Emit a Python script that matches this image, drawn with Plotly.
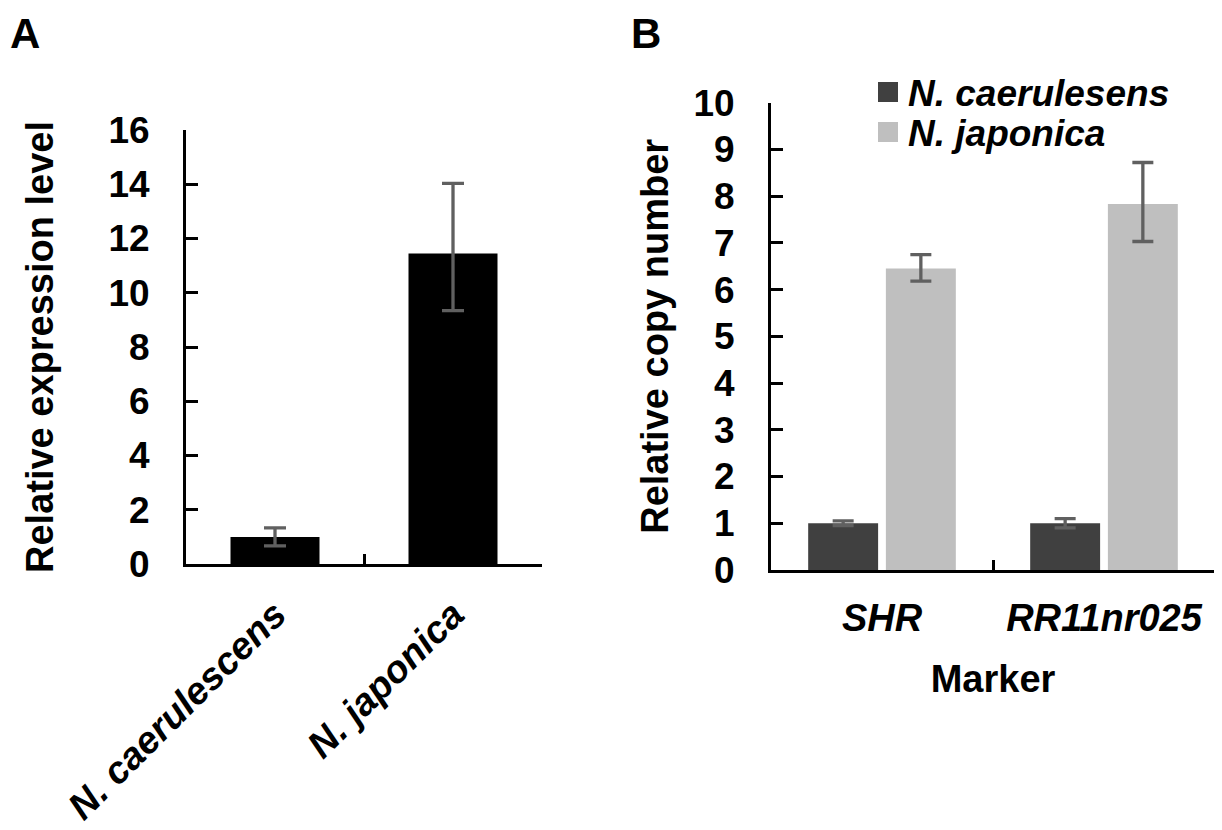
import plotly.graph_objects as go

# Panel A data
species = ["N. caerulescens", "N. japonica"]
expr_values = [1.0, 11.45]
expr_err_plus = [0.33, 2.58]
expr_err_minus = [0.33, 2.11]

# Panel B data
markers = ["SHR", "RR11nr025"]
series_names = ["N. caerulesens", "N. japonica"]
series_colors = ["#404040", "#bfbfbf"]
copy_nc = [1.0, 1.0]
copy_nc_err = [0.05, 0.10]
copy_nj = [6.45, 7.83]
copy_nj_err_plus = [0.30, 0.89]
copy_nj_err_minus = [0.27, 0.80]

W, H = 1222, 830
OFF = 8  # page body margin
FONT = "Arial, 'Liberation Sans', sans-serif"
ERR = "#606060"


def px(x):
    return (x - OFF) / W


def py(y):
    return 1 - (y - OFF) / H


fig = go.Figure()

fig.add_trace(go.Bar(
    x=species, y=expr_values, width=0.5,
    marker=dict(color="#000000", line=dict(width=0)),
    error_y=dict(type="data", symmetric=False, array=expr_err_plus,
                 arrayminus=expr_err_minus, color=ERR, thickness=3.3, width=11),
    xaxis="x", yaxis="y", showlegend=False,
))

fig.add_trace(go.Bar(
    x=markers, y=copy_nc, name=series_names[0],
    marker=dict(color=series_colors[0], line=dict(width=0)),
    error_y=dict(type="data", array=copy_nc_err, color=ERR, thickness=3.3, width=10.5),
    xaxis="x2", yaxis="y2", showlegend=False,
))
fig.add_trace(go.Bar(
    x=markers, y=copy_nj, name=series_names[1],
    marker=dict(color=series_colors[1], line=dict(width=0)),
    error_y=dict(type="data", symmetric=False, array=copy_nj_err_plus,
                 arrayminus=copy_nj_err_minus, color=ERR, thickness=3.3, width=10.5),
    xaxis="x2", yaxis="y2", showlegend=False,
))

# legend entries (square swatches)
for i, (nm, col) in enumerate(zip(series_names, series_colors)):
    fig.add_trace(go.Scatter(
        x=[None], y=[None], mode="markers", name=nm,
        marker=dict(symbol="square", size=16, color=col, line=dict(color=col, width=4)),
        xaxis="x2", yaxis="y2", legend="legend" if i == 0 else "legend2",
        hoverinfo="skip",
    ))

axis_common = dict(showline=True, linewidth=3, linecolor="black", showgrid=False,
                   zeroline=False, ticks="inside", tickwidth=3, tickcolor="black",
                   automargin=False)
tick_font = dict(family=FONT, size=37, color="black", weight="bold")
tick_font_it = dict(family=FONT, size=38, color="black", weight="bold", style="italic")
title_font = dict(family=FONT, size=38, color="black", weight="bold")
legend_font = dict(family=FONT, size=37, color="black", weight="bold", style="italic")

fig.update_layout(
    width=W, height=H,
    margin=dict(l=0, r=0, t=0, b=0),
    paper_bgcolor="white", plot_bgcolor="white",
    barmode="group", bargap=0.3, bargroupgap=0.1,
    xaxis=dict(domain=[px(186), px(542)], anchor="y", type="category",
               tickson="boundaries", ticklen=10, tickangle=-45,
               tickfont=tick_font_it, ticklabelstandoff=10, **axis_common),
    yaxis=dict(domain=[py(564), py(130)], anchor="x", range=[0, 16],
               dtick=2, ticklen=12, tickfont=tick_font, ticklabelstandoff=26,
               title=dict(text="Relative expression level", font=title_font, standoff=44),
               **axis_common),
    xaxis2=dict(domain=[px(771), px(1215)], anchor="y2", type="category",
                tickson="boundaries", ticklen=10, tickfont=tick_font_it,
                ticklabelstandoff=12,
                title=dict(text="Marker", font=title_font, standoff=28),
                **axis_common),
    yaxis2=dict(domain=[py(570), py(102.7)], anchor="x2", range=[0, 10],
                dtick=1, ticklen=12, tickfont=tick_font, ticklabelstandoff=26,
                title=dict(text="Relative copy number", font=title_font, standoff=14),
                **axis_common),
    legend=dict(x=px(868), xanchor="left", y=py(61.5), yanchor="top",
                bgcolor="rgba(0,0,0,0)", font=legend_font, itemwidth=30),
    legend2=dict(x=px(868), xanchor="left", y=py(101.5), yanchor="top",
                 bgcolor="rgba(0,0,0,0)", font=legend_font, itemwidth=30),
    annotations=[
        dict(text="A", x=0, y=1, xref="paper", yref="paper", xanchor="left",
             yanchor="top", showarrow=False,
             font=dict(family=FONT, size=42, color="black", weight="bold")),
        dict(text="B", x=px(629), y=1, xref="paper", yref="paper", xanchor="left",
             yanchor="top", showarrow=False,
             font=dict(family=FONT, size=42, color="black", weight="bold")),
    ],
)

fig.write_html("out.html")
